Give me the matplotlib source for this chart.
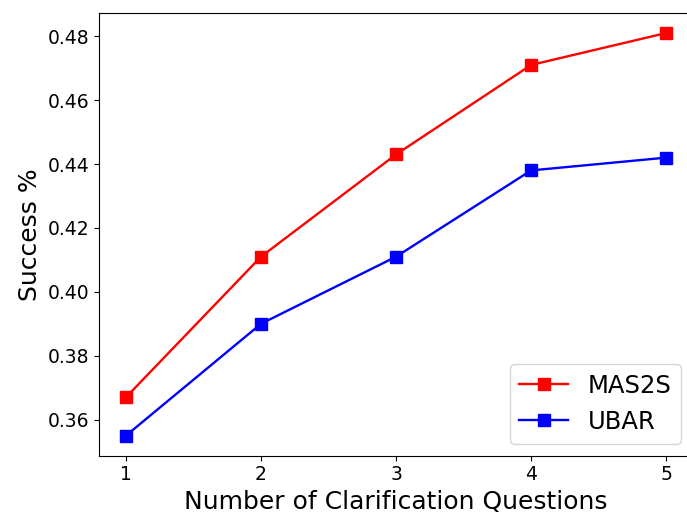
import matplotlib
matplotlib.use("Agg")
import matplotlib.pyplot as plt

questions = [1, 2, 3, 4, 5]
mas2s = [0.367, 0.411, 0.443, 0.471, 0.481]
ubar = [0.355, 0.390, 0.411, 0.438, 0.442]

fig, ax = plt.subplots(figsize=(6.87, 5.15), dpi=100)
ax.plot(questions, mas2s, color="red", marker="s", markersize=8, linewidth=1.7, label="MAS2S")
ax.plot(questions, ubar, color="blue", marker="s", markersize=8, linewidth=1.7, label="UBAR")
ax.set_xticks(questions)
ax.set_yticks([0.36, 0.38, 0.40, 0.42, 0.44, 0.46, 0.48])
ax.tick_params(labelsize=13.5)
ax.set_xlabel("Number of Clarification Questions", fontsize=18)
ax.set_ylabel("Success %", fontsize=18)
ax.legend(loc="lower right", fontsize=17.5)
fig.subplots_adjust(left=0.144, right=1.009, top=0.975, bottom=0.115)
fig.savefig("out.png", dpi=100)
